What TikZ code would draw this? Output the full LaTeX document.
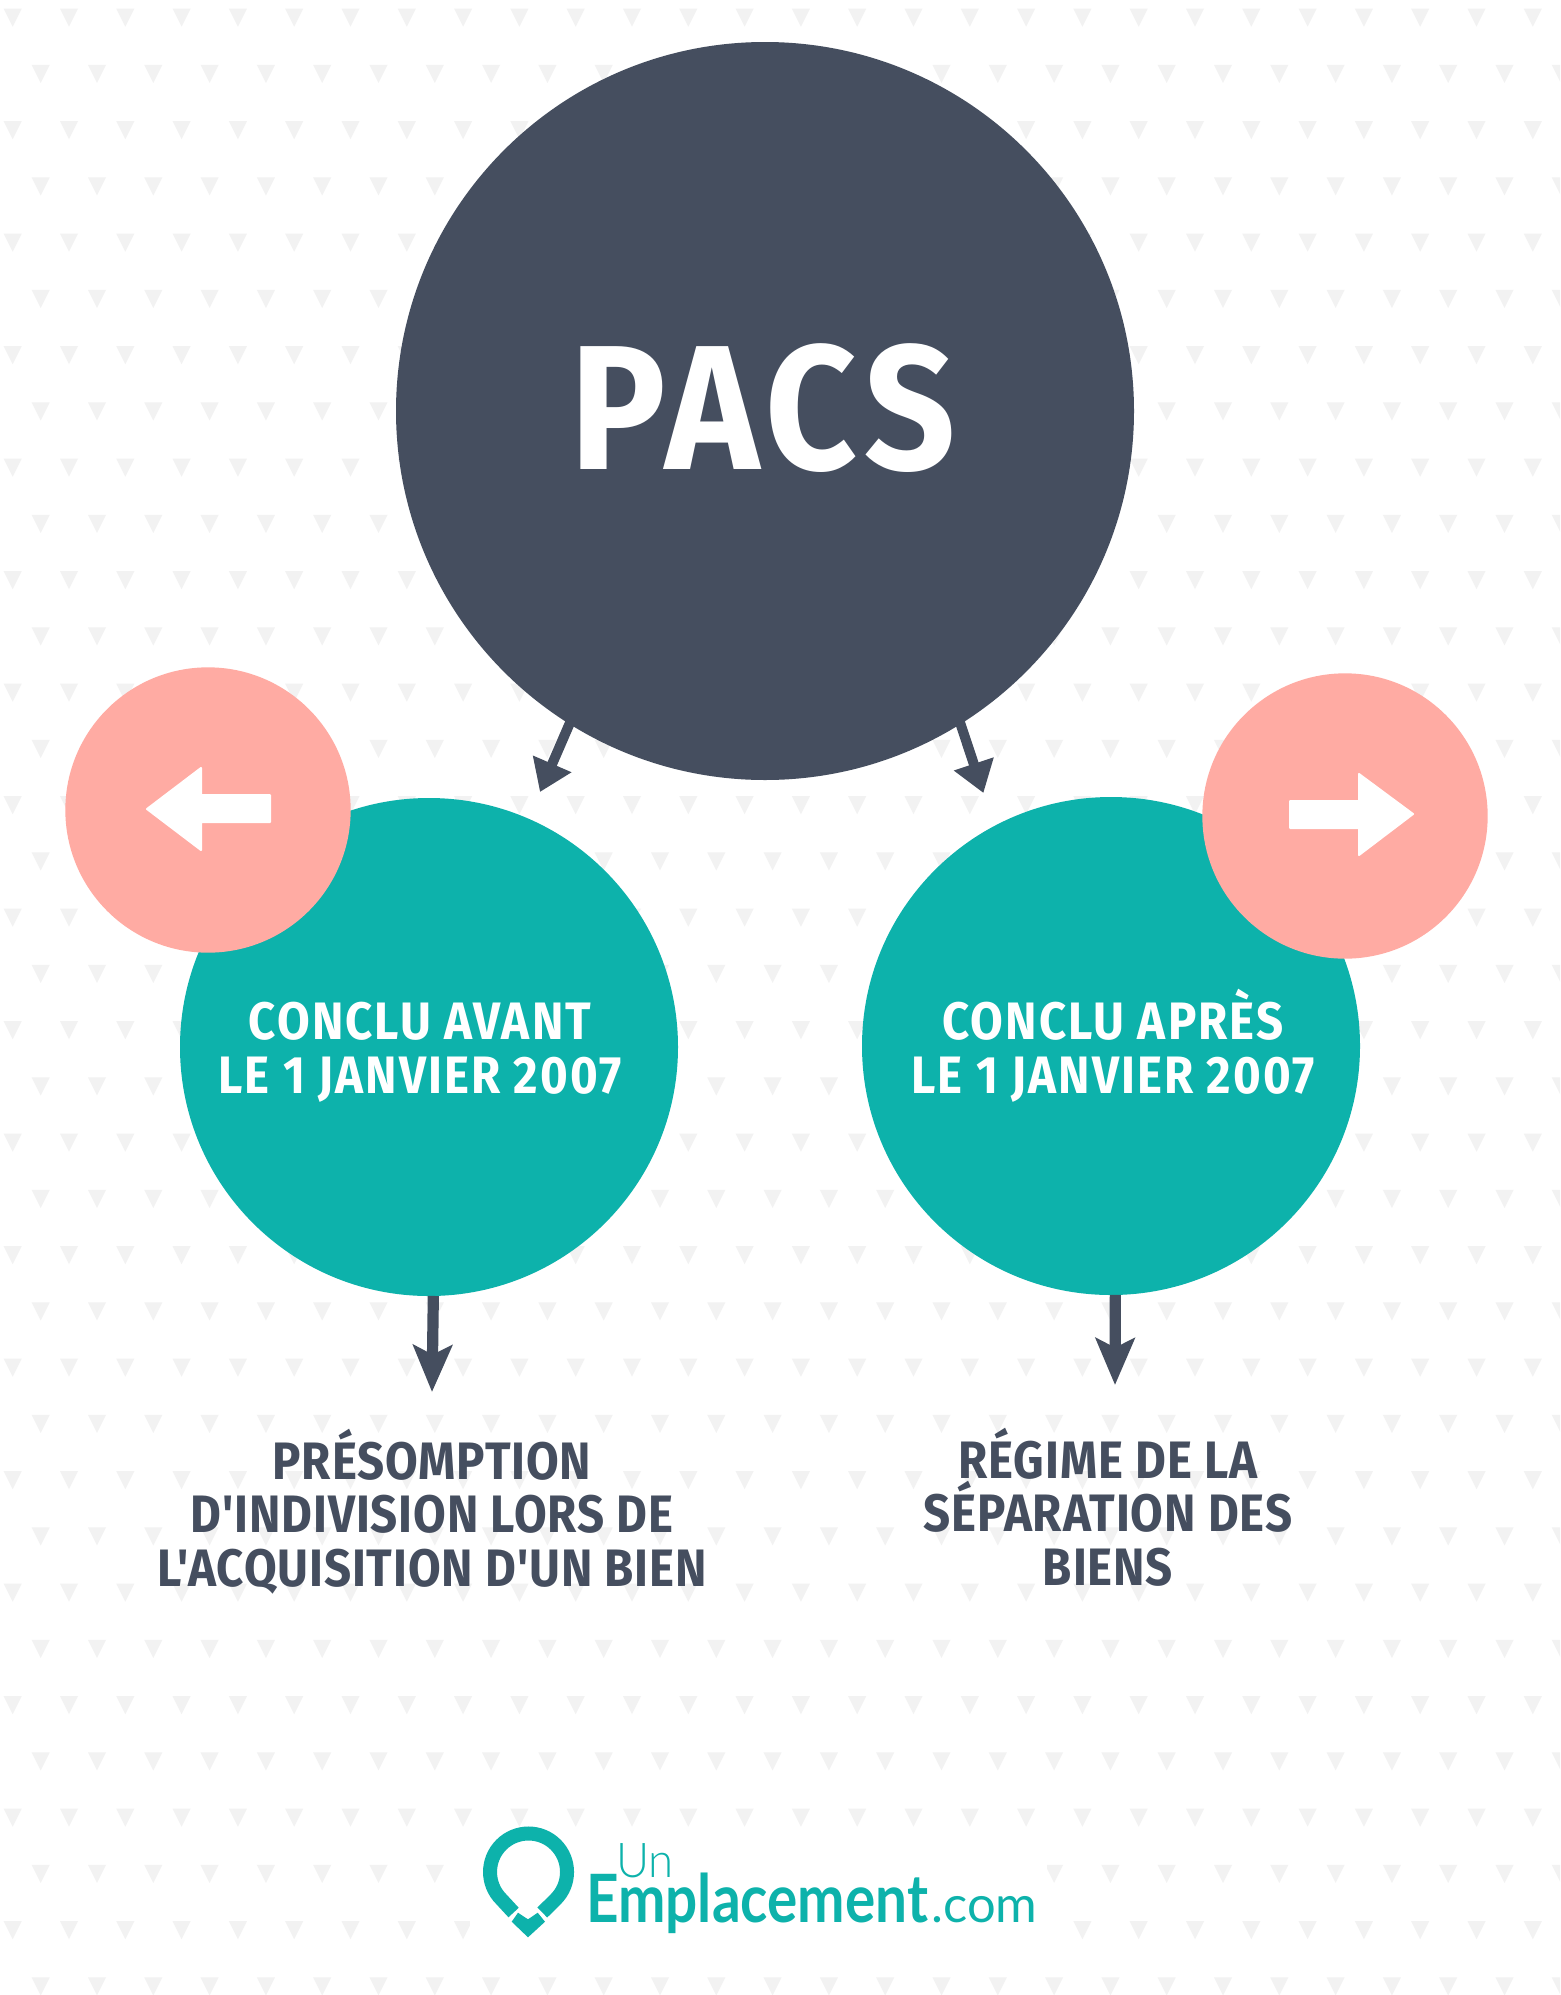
\documentclass[tikz,border=0pt]{standalone}
\usepackage{fontspec}
\usetikzlibrary{arrows.meta}
\setmainfont{Liberation Sans}
\newfontfamily\midfont[FakeStretch=0.9,LetterSpace=4]{Fira Sans}
\newfontfamily\lowfont[FakeStretch=0.9,LetterSpace=1.7]{Fira Sans}
\newfontfamily\titlefont[FakeStretch=0.9,LetterSpace=4.6]{Fira Sans}
\newfontfamily\logofont[FakeStretch=0.85]{Lato}
\newfontfamily\logocom{Lato}
\newfontfamily\logothin[FakeStretch=0.95]{Lato Light}
\definecolor{navy}{HTML}{454E5F}
\definecolor{tealc}{HTML}{0DB2AB}
\definecolor{pinkc}{HTML}{FFABA3}
\definecolor{tric}{HTML}{F2F2F2}
\tikzset{
  bubble/.style={circle,inner sep=0pt,outer sep=0pt},
  bigc/.style={bubble,fill=navy,minimum size=553.5pt},
  midc/.style={bubble,fill=tealc,minimum size=373.5pt},
  smallc/.style={bubble,fill=pinkc,minimum size=214pt},
  conn/.style={draw=navy,line width=7.5pt,-{Triangle[width=30pt,length=23pt]}},
  downconn/.style={draw=navy,line width=8.4pt,-{Stealth[width=29pt,length=35pt,inset=7pt]}},
  whitearrow/.style={fill=white,draw=white,line width=1.5pt,line join=round},
  midtext/.style={text=white,font=\midfont\bfseries\fontsize{39.5}{40.2}\selectfont,align=center,inner sep=0pt},
  lowtext/.style={text=navy,font=\lowfont\bfseries\fontsize{39.5}{40.2}\selectfont,align=center,inner sep=0pt},
}
\newcommand{\bgtri}[2]{\fill[tric] (#1-9,#2) -- (#1+9,#2) -- (#1,#2+18) -- cycle;}
\begin{document}
\begin{tikzpicture}[x=0.75pt,y=-0.75pt]
\useasboundingbox (0,0) rectangle (1560,1995);
\clip (0,0) rectangle (1560,1995);
\fill[white] (0,0) rectangle (1560,1995);
% background pattern
\foreach \r in {0,2,...,34}{\foreach \c in {0,...,27}{\bgtri{12.7+\c*56.3}{8.7+\r*56.25}}}
\foreach \r in {1,3,...,35}{\foreach \c in {0,...,27}{\bgtri{40.7+\c*56.3}{8.7+\r*56.25}}}
\fill[white] (470,1832) rectangle (1047,1972);
% bubbles
\node[midc] (left) at (429,1047) {};
\node[midc] (right) at (1111,1046) {};
\node[bigc] (pacs) at (765,411) {};
\node[smallc] (pl) at (208,810) {};
\node[smallc] (pr) at (1345,816) {};
% connector end points
\coordinate (tl) at (540,792);
\coordinate (tr) at (983.4,793);
\coordinate (dl) at (432,1392);
\coordinate (dr) at (1115,1385);
\draw[conn,shorten <=-4pt] (pacs.-122) -- (tl);
\draw[conn,shorten <=-4pt] (pacs.-58.4) -- (tr);
\draw[downconn] (left.-89.5) -- (dl);
\draw[downconn] (right.-89) -- (dr);
% white arrows
\path[whitearrow] (147,809) -- (201,768) -- (201,795) -- (270,795) -- (270,822) -- (201,822) -- (201,850) -- cycle;
\path[whitearrow] (1413,814) -- (1359,774) -- (1359,801) -- (1290,801) -- (1290,828) -- (1359,828) -- (1359,855) -- cycle;
% texts
\node[text=white,inner sep=0pt,font=\titlefont\bfseries\fontsize{133}{133}\selectfont] (title) at (763,408) {PACS};
\node[midtext] (tleft) at (420,1052) {CONCLU AVANT\\LE 1 JANVIER 2007};
\node[midtext] (tright) at (1113,1045.5) {CONCLU APRÈS\\LE 1 JANVIER 2007};
\node[lowtext] (bleft) at (432,1511.5) {PRÉSOMPTION\\D'INDIVISION LORS DE\\L'ACQUISITION D'UN BIEN};
\node[lowtext] (bright) at (1108,1507) {RÉGIME DE LA\\SÉPARATION DES\\BIENS};
% logo
\draw[tealc,line width=10.5pt] (513.6,1912.5) -- (501.3,1899.2) arc[start angle=135,end angle=405,radius=38.5] -- (542.3,1912.5);
\fill[tealc] (511.7,1921.7) -- (518,1912.7) -- (528,1919.3) -- (537.7,1912.7) -- (545,1921.7) -- (528,1937.3) -- cycle;
\node[anchor=base west,inner sep=0pt,text=tealc,font=\logothin\fontsize{36}{36}\selectfont] (lun) at (616,1877) {Un};
\node[anchor=base west,inner sep=0pt,text=tealc,font=\logofont\bfseries\fontsize{50}{50}\selectfont] (lemp) at (586,1922) {Emplacement};
\node[anchor=base west,inner sep=0pt,text=tealc,font=\logocom\fontsize{38}{38}\selectfont] (lcom) at (931,1922) {.com};
\end{tikzpicture}
\end{document}
